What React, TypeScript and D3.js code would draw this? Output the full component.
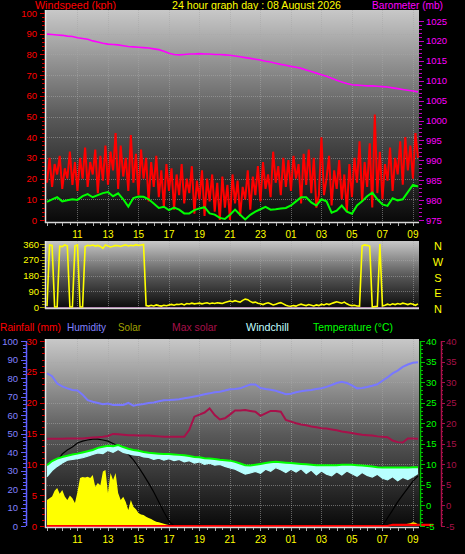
import React from "react";
import * as d3 from "d3";

const W = 465;
const H = 554;
const FONT = "'Liberation Sans', Arial, sans-serif";
const NUM = 9.5;

// ---------- text / ticks ----------
const titleLeft = "Windspeed (kph)";
const titleCenter = "24 hour graph day : 08 August 2026";
const titleRight = "Barometer (mb)";
const hourLabels = ["11", "13", "15", "17", "19", "21", "23", "01", "03", "05", "07", "09"];
const windTicks = [0, 10, 20, 30, 40, 50, 60, 70, 80, 90, 100];
const baroTicks = [975, 980, 985, 990, 995, 1000, 1005, 1010, 1015, 1020, 1025];
const dirTicks = [360, 270, 180, 90, 0];
const compassLabels = ["N", "W", "S", "E", "N"];
const humTicks = [0, 10, 20, 30, 40, 50, 60, 70, 80, 90, 100];
const rainTicks = [0, 5, 10, 15, 20, 25, 30];
const tempTicks = [-5, 0, 5, 10, 15, 20, 25, 30, 35, 40];
const legendNames = ["Rainfall (mm)", "Humidity", "Solar", "Max solar", "Windchill", "Temperature (°C)"];

// ---------- data (start 09:00, fixed step in minutes) ----------
// wind gust, 10 min step
const windGust = [
  18, 30, 16, 27, 22, 31, 15, 25, 20, 33, 17, 28,
  14, 30, 20, 35, 16, 28, 22, 34, 13, 31, 19, 36,
  17, 33, 24, 42, 15, 36, 21, 30, 14, 41, 18, 32,
  12, 34, 20, 30, 9, 28, 16, 31, 11, 24, 6, 27,
  14, 25, 5, 22, 12, 27, 8, 20, 13, 26, 3, 19,
  10, 24, 2, 20, 9, 22, 4, 18, 0, 21, 6, 17,
  0, 22, 8, 19, 2, 16, 10, 24, 5, 21, 12, 26,
  9, 28, 15, 22, 11, 33, 18, 26, 12, 30, 16, 29,
  14, 31, 20, 27, 8, 32, 17, 34, 13, 30, 6, 12,
  40, 12, 20, 31, 7, 24, 15, 29, 10, 22, 4, 27,
  11, 30, 18, 38, 9, 28, 16, 37, 6, 51, 13, 33,
  10, 27, 19, 35, 14, 30, 22, 38, 17, 40, 24, 36,
  20, 42, 30,
];
// wind average, 20 min step
const windAvg = [
  8.8, 10, 11, 9, 9.5, 10,
  9.7, 11.5, 12.5, 11, 12, 13,
  13.5, 11.5, 12.9, 10, 6.5, 10.6,
  11.3, 11.2, 10, 8, 5.8, 6.4,
  4.8, 6, 5, 3.2, 3.2, 4.8,
  5.6, 6.2, 3.2, 2.6, 1, 0.5,
  2.5, 5, 2.5, 0.3, 2.5, 4,
  5.2, 6.3, 5, 5.2, 5.6, 5.8,
  7, 9, 11, 11, 8.5, 7,
  10, 9, 3.5, 4.5, 7, 4,
  3, 7, 9, 11.5, 13.2, 10,
  7.5, 6.8, 10.5, 9.5, 10, 13.5,
  17, 16.2,
];
// barometer, 20 min step
const barometer = [
  1021.7, 1021.6, 1021.5, 1021.4, 1021.2, 1021.1,
  1020.8, 1020.6, 1020.4, 1020.0, 1019.7, 1019.4,
  1019.2, 1019.1, 1019.0, 1018.8, 1018.6, 1018.5,
  1018.4, 1018.3, 1018.2, 1018.0, 1017.8, 1017.4,
  1016.9, 1016.6, 1016.5, 1016.6, 1016.7, 1016.7,
  1016.8, 1016.7, 1016.7, 1016.6, 1016.6, 1016.5,
  1016.4, 1016.2, 1016.0, 1015.8, 1015.6, 1015.4,
  1015.2, 1014.9, 1014.7, 1014.4, 1014.1, 1013.9,
  1013.6, 1013.4, 1013.1, 1012.7, 1012.3, 1011.9,
  1011.5, 1011.1, 1010.6, 1010.1, 1009.7, 1009.3,
  1009.0, 1008.9, 1008.8, 1008.7, 1008.7, 1008.6,
  1008.5, 1008.4, 1008.2, 1008.0, 1007.8, 1007.6,
  1007.4, 1007.2,
];
// wind direction, 10 min step
const windDir = [
  5, 355, 352, 0, 0, 348, 345, 355, 350, 0, 0, 350,
  355, 0, 0, 345, 352, 350, 354, 348, 352, 346, 335, 355,
  349, 343, 347, 352, 350, 346, 351, 355, 349, 353, 350, 356,
  352, 354, 357, 8, 5, 10, 6, 12, 8, 5, 10, 7,
  12, 15, 10, 16, 14, 18, 12, 20, 17, 22, 18, 20,
  22, 18, 21, 24, 19, 23, 20, 24, 22, 20, 26, 30,
  34, 30, 36, 32, 28, 38, 45, 42, 32, 25, 28, 22,
  18, 14, 20, 24, 18, 12, 16, 22, 25, 18, 10, 6,
  4, 8, 5, 12, 16, 12, 8, 14, 10, 6, 12, 8,
  16, 12, 18, 14, 20, 25, 30, 26, 22, 28, 18, 12,
  8, 10, 6, 5, 350, 355, 352, 348, 0, 2, 4, 360,
  6, 10, 16, 12, 18, 14, 20, 16, 22, 18, 14, 20,
  16, 10, 18,
];
// humidity %, 20 min step
const humidity = [
  82.5, 81, 77, 75.5, 74.4, 73.5,
  73.2, 71, 68, 67.2, 66.5, 65.8,
  66.2, 65.4, 65.5, 65.4, 66.5, 65,
  65.6, 66, 66.5, 66.8, 67.4, 68,
  68.1, 68.3, 68.5, 69, 69.5, 70,
  70.5, 71.2, 71.7, 72.3, 72.6, 73.2,
  73.9, 74, 74.4, 75.5, 76.5, 76.5,
  74.6, 74, 73.6, 73.1, 72.2, 71.2,
  71.5, 72.3, 72.8, 73.2, 73.5, 74,
  74.5, 75.2, 76.2, 77.3, 78, 77.3,
  76, 74.4, 74.6, 75.1, 75.8, 76.6,
  78.5, 80.3, 82.5, 84, 86, 87.3,
  88.2, 88.5,
];
// maroon series (°C scale), 20 min step
const maxSolarLine = [
  16.2, 16.2, 16.2, 16.2, 16.3, 16.3,
  16.3, 16.3, 16.4, 16.5, 16.6, 16.7,
  16.9, 17.4, 17.3, 17.2, 17.1, 17.1,
  17.0, 17.0, 17.0, 16.9, 16.8, 16.7,
  16.7, 16.7, 16.7, 16.7, 18.4, 21.6,
  22.1, 22.6, 23.6, 22.0, 20.9, 21.2,
  22.1, 23.1, 23.1, 23.2, 23.0, 22.8,
  21.8, 22.4, 23.0, 23.0, 22.8, 20.8,
  20.4, 20.0, 19.7, 19.5, 19.2, 19.0,
  18.8, 18.7, 18.5, 18.3, 18.0, 17.8,
  17.6, 17.4, 17.2, 17.1, 17.0, 16.8,
  16.7, 16.6, 15.8, 15.4, 15.3, 16.3,
  16.3, 16.2,
];
// temperature °C, 20 min step
const temperature = [
  9.8, 10.8, 11.4, 11.8, 12.1, 12.4,
  12.6, 12.9, 13.2, 13.5, 14.0, 14.3,
  14.5, 14.4, 14.7, 14.2, 13.8, 13.5,
  13.3, 13.0, 12.8, 12.7, 12.6, 12.5,
  12.5, 12.4, 12.3, 12.2, 12.0, 11.8,
  11.7, 11.5, 11.4, 11.3, 11.1, 11.0,
  10.9, 10.6, 10.2, 9.8, 9.7, 9.9,
  10.1, 10.3, 10.5, 10.6, 10.5, 10.4,
  10.3, 10.2, 10.1, 10.0, 9.9, 9.8,
  9.8, 9.8, 9.8, 9.8, 9.9, 9.9,
  9.9, 9.8, 9.7, 9.6, 9.5, 9.3,
  9.2, 9.2, 9.2, 9.2, 9.2, 9.2,
  9.3, 9.3,
];
// windchill °C, 20 min step
const windchill = [
  7.0, 8.5, 9.5, 10.3, 11.0, 11.2,
  11.4, 11.6, 12.0, 12.4, 12.8, 12.6,
  13.4, 12.9, 13.6, 12.9, 12.6, 12.3,
  12.2, 11.8, 11.7, 11.2, 11.5, 11.0,
  11.4, 10.9, 11.2, 10.6, 10.9, 10.3,
  10.6, 10.0, 10.3, 9.8, 10.0, 9.5,
  9.1, 8.8, 8.2, 7.6, 7.9, 8.3,
  7.8, 8.8, 8.3, 9.2, 8.7, 8.0,
  8.8, 8.1, 8.9, 7.8, 8.6, 7.4,
  8.4, 7.6, 7.2, 8.2, 7.4, 8.4,
  7.7, 7.1, 8.0, 7.3, 6.9, 7.6,
  6.6, 6.2, 7.0, 6.0, 6.8, 6.3,
  7.0, 7.8,
];
// solar W/m², 10 min step
const solarAfternoon = [
  141, 150, 160, 190, 205, 175, 195, 160, 141, 165, 150, 124,
  185, 259, 265, 262, 266, 259, 276, 212, 232, 220, 294, 303,
  178, 286, 249, 286, 178, 141, 158, 130, 86, 141, 104, 90,
  70, 62, 59, 50, 43, 38, 30, 23, 20, 16, 12, 8,
  5, 0,
];
const solarAfternoonStart = "09:00";
const solarMorning = [0, 10, 12, 15, 20, 18, 10];
const solarMorningStart = "08:20";
// max solar curve W/m², 20 min step
const maxSolarAfternoon = [
  286, 319, 351, 389, 411, 427,
  449, 459, 465, 470, 470, 465,
  459, 446, 432, 411, 389, 357,
  319, 276, 232, 184, 130, 76,
  27, 0,
];
const maxSolarAfternoonStart = "09:00";
const maxSolarMorning = [0, 43, 86, 130, 168, 205, 243, 270];
const maxSolarMorningStart = "07:00";
// rainfall mm, 20 min step (from 06:00)
const rainfall = [0, 0, 0, 0, 0, 0.2, 0.2, 0.2, 0.2, 0.2, 0.2, 0.2, 0.2, 0.2];
const rainfallStart = "06:00";
const rainfallEarlier = [0, 0];
const rainfallEarlierTimes = ["09:00", "06:00"];

// ---------- helpers ----------
function hoursFrom(t: string) {
  const [hh, mm] = t.split(":").map(Number);
  let h = hh - 9 + mm / 60;
  if (h < 0) h += 24;
  return h;
}
type P = { h: number; v: number };
function seq(values: number[], stepMin: number, start = "09:00"): P[] {
  const h0 = hoursFrom(start);
  return values.map((v, i) => ({ h: h0 + (i * stepMin) / 60, v }));
}

// ---------- layout ----------
const PL = 45;
const PR = 419;
const x = d3.scaleLinear().domain([0, 24 + 20 / 60]).range([47, 418]);

const TOP = { y0: 10, y1: 223 };
const MID = { y0: 241, y1: 309 };
const BOT = { y0: 339, y1: 528 };

const yWind = d3.scaleLinear().domain([0, 100]).range([220, 13]);
const yBaro = d3.scaleLinear().domain([975, 1025]).range([220, 21]);
const yDir = d3.scaleLinear().domain([0, 360]).range([307, 244]);
const yHum = d3.scaleLinear().domain([0, 100]).range([526, 341]);
const yRain = d3.scaleLinear().domain([0, 30]).range([526, 341]);
const yTemp = d3.scaleLinear().domain([-5, 40]).range([526, 341]);
const ySolar = d3.scaleLinear().domain([0, 1000]).range([526, 341]);

const C = {
  red: "#ff0000",
  green: "#00ff00",
  magenta: "#ff00ff",
  yellow: "#ffff00",
  hum: "#7878ff",
  humLabel: "#8080ff",
  solar: "#a0a000",
  maroon: "#a8104a",
  chill: "#b8ffff",
};

function lineOf(data: P[], y: d3.ScaleLinear<number, number>) {
  return d3
    .line<P>()
    .x((d) => x(d.h))
    .y((d) => y(d.v))(data) as string;
}
function areaOf(data: P[], y: d3.ScaleLinear<number, number>, base: number) {
  return d3
    .area<P>()
    .x((d) => x(d.h))
    .y0(y(base))
    .y1((d) => y(d.v))(data) as string;
}

function Panel({ id, y0, y1 }: { id: string; y0: number; y1: number }) {
  return (
    <g>
      <defs>
        <linearGradient id={id} x1="0" y1="0" x2="0" y2="1">
          <stop offset="0" stopColor="#c8c8c8" />
          <stop offset="0.5" stopColor="#5a5a5a" />
          <stop offset="1" stopColor="#080808" />
        </linearGradient>
      </defs>
      <rect x={PL} y={y0} width={PR - PL} height={y1 - y0} fill={`url(#${id})`} />
    </g>
  );
}

function Frame({ y0, y1 }: { y0: number; y1: number }) {
  return (
    <g>
      <line x1={PL + 0.5} x2={PL + 0.5} y1={y0} y2={y1} stroke="#e8e8e8" strokeWidth={1.5} />
      <line x1={PL} x2={PR} y1={y1 - 0.5} y2={y1 - 0.5} stroke="#d8d8d8" strokeWidth={1.5} />
    </g>
  );
}

function VGrid({ y0, y1 }: { y0: number; y1: number }) {
  return (
    <g>
      {hourLabels.map((_, i) => {
        const xx = Math.round(x((i + 1) * 2)) + 0.5;
        return (
          <line key={i} x1={xx} x2={xx} y1={y0} y2={y1} stroke="#a8a8a8" strokeOpacity={0.55} strokeDasharray="1 1" />
        );
      })}
    </g>
  );
}

function HGrid({ ys }: { ys: number[] }) {
  return (
    <g>
      {ys.map((yy, i) => (
        <line key={i} x1={PL} x2={PR} y1={Math.round(yy) + 0.5} y2={Math.round(yy) + 0.5} stroke="#a8a8a8" strokeOpacity={0.55} strokeDasharray="1 1" />
      ))}
    </g>
  );
}

function Ticks({
  scale, from, to, step, x0, majLen, minLen, dir, color, majorEvery,
}: {
  scale: d3.ScaleLinear<number, number>; from: number; to: number; step: number; x0: number;
  majLen: number; minLen: number; dir: number; color: string; majorEvery: number;
}) {
  const vals = d3.range(from, to + step / 2, step);
  return (
    <g>
      {vals.map((v, i) => {
        const yy = Math.round(scale(v)) + 0.5;
        const major = Math.abs(((v - from) / majorEvery) - Math.round((v - from) / majorEvery)) < 1e-6;
        const len = major ? majLen : minLen;
        return <line key={i} x1={x0} x2={x0 + dir * len} y1={yy} y2={yy} stroke={color} strokeWidth={1} />;
      })}
    </g>
  );
}

function XAxis({ yTick, yLabel }: { yTick: number; yLabel: number }) {
  const hrs = d3.range(0, 24.5, 0.5);
  return (
    <g>
      {hrs.map((h) => {
        const xx = Math.round(x(h)) + 0.5;
        return <line key={h} x1={xx} x2={xx} y1={yTick} y2={yTick + (Number.isInteger(h) ? 3 : 2)} stroke="#b0b0b0" />;
      })}
      {hourLabels.map((t, i) => (
        <text key={t + i} x={x((i + 1) * 2)} y={yLabel} fill={C.yellow} fontSize={10} textAnchor="middle" fontFamily={FONT}>
          {t}
        </text>
      ))}
    </g>
  );
}

export default function App() {
  const gust = seq(windGust, 10);
  const avg = seq(windAvg, 20);
  const baro = seq(barometer, 20);
  const dir = seq(windDir, 10);
  const hum = seq(humidity, 20);
  const mar = seq(maxSolarLine, 20);
  const temp = seq(temperature, 20);
  const chill = seq(windchill, 20);
  const solA = seq(solarAfternoon, 10, solarAfternoonStart);
  const solM = seq(solarMorning, 10, solarMorningStart);
  const msA = seq(maxSolarAfternoon, 20, maxSolarAfternoonStart);
  const msM = seq(maxSolarMorning, 20, maxSolarMorningStart);
  const rainPts: P[] = [
    ...rainfallEarlier.map((v, i) => ({ h: hoursFrom(rainfallEarlierTimes[i]), v })),
    ...seq(rainfall, 20, rainfallStart).map((d) => ({ h: d.h, v: d.v })),
  ].sort((a, b) => a.h - b.h);

  const chillArea = d3
    .area<[P, P]>()
    .x((d) => x(d[0].h))
    .y0((d) => yTemp(d[0].v))
    .y1((d) => yTemp(d[1].v))(temp.map((t, i) => [t, chill[i]] as [P, P])) as string;

  const legendX = [0, 67, 118, 172, 246, 313];
  const legendW = [61, 39, 23, 45, 43, 80];
  const legendColors = [C.red, C.humLabel, C.solar, C.maroon, "#c0ffff", C.green];

  return (
    <svg
      width={W}
      height={H}
      viewBox={`0 0 ${W} ${H}`}
      style={{ position: "absolute", left: 0, top: 0, display: "block", background: "#000" }}
    >
      <rect x={0} y={0} width={W} height={H} fill="#000" />

      {/* Titles */}
      <text x={35} y={9} fill={C.red} fontSize={11} fontFamily={FONT} textLength={81} lengthAdjust="spacingAndGlyphs">{titleLeft}</text>
      <text x={172} y={9} fill={C.yellow} fontSize={11} fontFamily={FONT} textLength={169} lengthAdjust="spacingAndGlyphs">{titleCenter}</text>
      <text x={372} y={9} fill={C.magenta} fontSize={11} fontFamily={FONT} textLength={71} lengthAdjust="spacingAndGlyphs">{titleRight}</text>

      {/* ---------- TOP PANEL ---------- */}
      <Panel id="gTop" y0={TOP.y0} y1={TOP.y1} />
      <HGrid ys={windTicks.slice(1, 10).map((v) => yWind(v))} />
      <VGrid y0={TOP.y0} y1={TOP.y1} />
      <path d={lineOf(baro, yBaro)} fill="none" stroke={C.magenta} strokeWidth={1.6} />
      <path d={lineOf(gust, yWind)} fill="none" stroke={C.red} strokeWidth={2} strokeLinejoin="miter" />
      <path d={lineOf(avg, yWind)} fill="none" stroke={C.green} strokeWidth={2} />
      <Frame y0={TOP.y0} y1={TOP.y1} />
      <Ticks scale={yWind} from={0} to={100} step={2} x0={45} majLen={5} minLen={3} dir={-1} color="#d00000" majorEvery={10} />
      {windTicks.map((v) => (
        <text key={v} x={37} y={yWind(v) + 3.5} fill={C.red} fontSize={NUM} fontFamily={FONT} textAnchor="end">{v}</text>
      ))}
      <Ticks scale={yBaro} from={975} to={1025} step={1} x0={419} majLen={5} minLen={3} dir={1} color="#c000c0" majorEvery={5} />
      {baroTicks.map((v) => (
        <text key={v} x={426} y={yBaro(v) + 3.5} fill={C.magenta} fontSize={NUM} fontFamily={FONT}>{v}</text>
      ))}
      <XAxis yTick={TOP.y1} yLabel={238} />

      {/* ---------- MIDDLE PANEL ---------- */}
      <Panel id="gMid" y0={MID.y0} y1={MID.y1} />
      <HGrid ys={[90, 180, 270].map((v) => yDir(v))} />
      <VGrid y0={MID.y0} y1={MID.y1} />
      <line x1={PL} x2={PR} y1={yDir(0) + 1} y2={yDir(0) + 1} stroke="#d890d8" strokeWidth={1.5} />
      <path d={lineOf(dir, yDir)} fill="none" stroke={C.yellow} strokeWidth={1.6} />
      <Frame y0={MID.y0} y1={MID.y1} />
      <Ticks scale={yDir} from={0} to={360} step={18} x0={45} majLen={5} minLen={3} dir={-1} color="#a0a000" majorEvery={90} />
      {dirTicks.map((v) => (
        <text key={v} x={39} y={yDir(v) + 3.5} fill={C.yellow} fontSize={NUM} fontFamily={FONT} textAnchor="end">{v}</text>
      ))}
      {compassLabels.map((c, i) => (
        <text key={i} x={438} y={yDir(dirTicks[i]) + 6} fill={C.yellow} fontSize={11} fontFamily={FONT} textAnchor="middle">{c}</text>
      ))}

      {/* ---------- LEGEND ---------- */}
      {legendNames.map((n, i) => (
        <text key={n} x={legendX[i]} y={331} fill={legendColors[i]} fontSize={11} fontFamily={FONT} textLength={legendW[i]} lengthAdjust="spacingAndGlyphs">{n}</text>
      ))}

      {/* ---------- BOTTOM PANEL ---------- */}
      <Panel id="gBot" y0={BOT.y0} y1={BOT.y1} />
      <HGrid ys={[0, 5, 10, 15, 20, 25, 30, 35].map((v) => yTemp(v))} />
      <VGrid y0={BOT.y0} y1={BOT.y1} />
      <path d={areaOf(solA, ySolar, 0)} fill={C.yellow} />
      <path d={areaOf(solM, ySolar, 0)} fill={C.yellow} />
      <path d={lineOf(msA, ySolar)} fill="none" stroke="#000" strokeWidth={1.2} />
      <path d={lineOf(msM, ySolar)} fill="none" stroke="#000" strokeWidth={1.2} />
      <path d={lineOf(mar, yTemp)} fill="none" stroke={C.maroon} strokeWidth={2} />
      <path d={lineOf(hum, yHum)} fill="none" stroke={C.hum} strokeWidth={2} />
      <path d={chillArea} fill={C.chill} />
      <path d={lineOf(chill, yTemp)} fill="none" stroke={C.chill} strokeWidth={1.2} />
      <path d={lineOf(temp, yTemp)} fill="none" stroke={C.green} strokeWidth={2} />
      <path d={areaOf(rainPts, yRain, 0)} fill={C.red} />
      <path d={lineOf(rainPts, yRain)} fill="none" stroke={C.red} strokeWidth={2.2} />
      <Frame y0={BOT.y0} y1={BOT.y1} />

      {/* humidity axis */}
      <line x1={26.5} x2={26.5} y1={yHum(100)} y2={yHum(0)} stroke="#6060ff" strokeWidth={1.5} />
      <Ticks scale={yHum} from={0} to={100} step={2} x0={26} majLen={5} minLen={3} dir={-1} color="#6060ff" majorEvery={10} />
      {humTicks.map((v) => (
        <text key={v} x={18} y={yHum(v) + 3.5} fill={C.humLabel} fontSize={NUM} fontFamily={FONT} textAnchor="end">{v}</text>
      ))}
      {/* rain axis */}
      <Ticks scale={yRain} from={0} to={30} step={1} x0={45} majLen={5} minLen={3} dir={-1} color="#d00000" majorEvery={5} />
      {rainTicks.map((v) => (
        <text key={v} x={37} y={yRain(v) + 3.5} fill={C.red} fontSize={NUM} fontFamily={FONT} textAnchor="end">{v}</text>
      ))}
      {/* temperature axis */}
      <line x1={420.5} x2={420.5} y1={yTemp(40)} y2={yTemp(-5)} stroke="#00c000" strokeWidth={1.5} />
      <Ticks scale={yTemp} from={-5} to={40} step={1} x0={420} majLen={5} minLen={3} dir={1} color="#00c000" majorEvery={5} />
      {tempTicks.map((v) => (
        <text key={v} x={426} y={yTemp(v) + 3.5} fill={C.green} fontSize={NUM} fontFamily={FONT}>{v}</text>
      ))}
      {/* maroon axis */}
      <line x1={441.5} x2={441.5} y1={yTemp(40)} y2={yTemp(-5)} stroke={C.maroon} strokeWidth={1.5} />
      <Ticks scale={yTemp} from={-5} to={40} step={1} x0={441} majLen={4} minLen={2} dir={1} color={C.maroon} majorEvery={5} />
      {tempTicks.map((v) => (
        <text key={v} x={446} y={yTemp(v) + 3.5} fill={C.maroon} fontSize={NUM} fontFamily={FONT}>{v}</text>
      ))}
      <XAxis yTick={BOT.y1} yLabel={543} />
    </svg>
  );
}
